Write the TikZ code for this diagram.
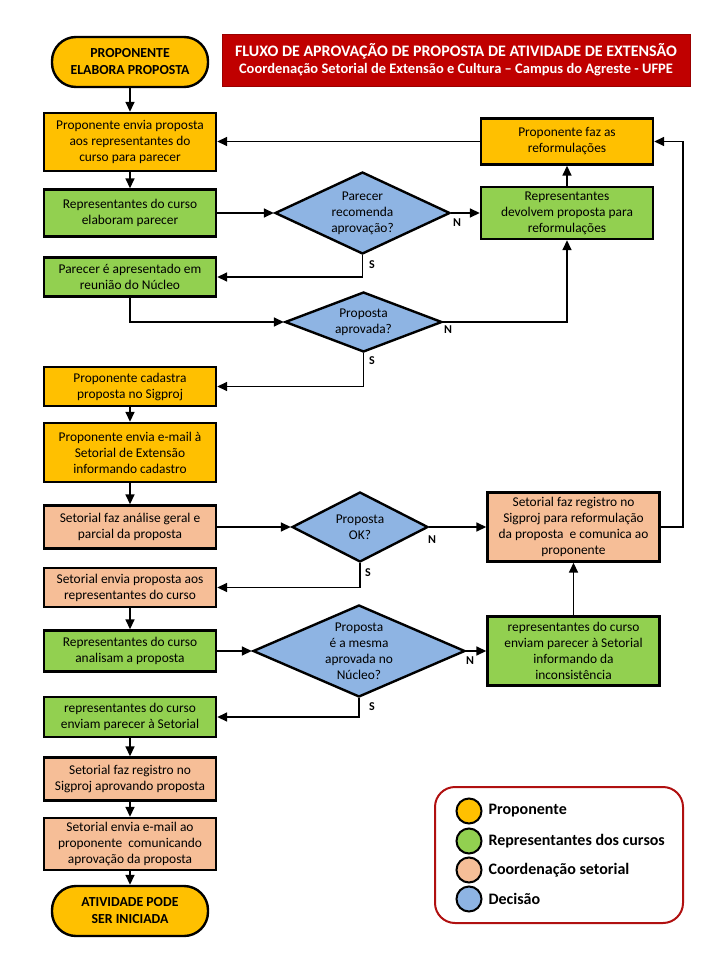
\documentclass[tikz,border=0pt]{standalone}
\usepackage{fontspec}
\setmainfont{Carlito}
\usetikzlibrary{arrows.meta,shapes.geometric,calc}
\definecolor{cprop}{HTML}{FFC000}
\definecolor{crep}{HTML}{92D050}
\definecolor{cset}{HTML}{F6BE97}
\definecolor{cdec}{HTML}{8EB4E3}
\definecolor{ctitle}{HTML}{C00000}
\definecolor{clegend}{HTML}{B01010}
\begin{document}
\begin{tikzpicture}[x=1pt,y=-1pt,
  base/.style={draw=black,line width=2.4pt,align=center,inner sep=1pt,font=\fontsize{13.4}{16}\selectfont},
  rbox/.style={base,rectangle,minimum width=172pt},
  term/.style={base,rectangle,rounded corners=24pt,minimum width=156pt,minimum height=50pt,fill=cprop,font=\bfseries\fontsize{13.8}{17}\selectfont},
  dec/.style={base,diamond,fill=cdec,inner sep=0pt},
  dtext/.style={align=center,font=\fontsize{13.4}{16}\selectfont},
  arr/.style={line width=1.6pt,-{Triangle[length=10pt,width=9pt]}},
  lab/.style={font=\bfseries\fontsize{12}{12}\selectfont},
  legc/.style={circle,draw=black,line width=2pt,minimum size=25pt,inner sep=0pt},
  legt/.style={anchor=west,font=\bfseries\fontsize{16}{18}\selectfont}
]
\useasboundingbox (0,0) rectangle (720,960);

% title
\node[fill=ctitle,draw=ctitle!80!black,line width=0.8pt,minimum width=468pt,minimum height=52pt,align=center,text=white] (title) at (456,60)
 {{\bfseries\fontsize{16}{20}\selectfont FLUXO DE APROVAÇÃO DE PROPOSTA DE ATIVIDADE DE EXTENSÃO}\\[3pt]
  {\bfseries\fontsize{14.5}{17}\selectfont Coordenação Setorial de Extensão e Cultura -- Campus do Agreste - UFPE}};

% left column
\node[term] (start) at (130,62) {PROPONENTE\\ELABORA PROPOSTA};
\node[rbox,fill=cprop,minimum height=58pt] (b1) at (130,142) {Proponente envia proposta\\aos representantes do\\curso para parecer};
\node[rbox,fill=crep,minimum height=47pt] (b2) at (130,213) {Representantes do curso\\elaboram parecer};
\node[rbox,fill=crep,minimum height=39pt] (b3) at (130,277) {Parecer é apresentado em\\reunião do Núcleo};
\node[rbox,fill=cprop,minimum height=39pt] (b4) at (130,386.5) {Proponente cadastra\\proposta no Sigproj};
\node[rbox,fill=cprop,minimum height=59pt] (b5) at (130,452.5) {Proponente envia e-mail à\\Setorial de Extensão\\informando cadastro};
\node[rbox,fill=cset,minimum height=43pt] (b6) at (130,527) {Setorial faz análise geral e\\parcial da proposta};
\node[rbox,fill=cset,minimum height=39pt] (b7) at (130,587.5) {Setorial envia proposta aos\\representantes do curso};
\node[rbox,fill=crep,minimum height=41pt] (b8) at (130,651) {Representantes do curso\\analisam a proposta};
\node[rbox,fill=crep,minimum height=40pt] (b9) at (130,717) {representantes do curso\\enviam parecer à Setorial};
\node[rbox,fill=cset,minimum height=43pt] (b10) at (130,779) {Setorial faz registro no\\Sigproj aprovando proposta};
\node[rbox,fill=cset,minimum height=52pt] (b11) at (130,844) {Setorial envia e-mail ao\\proponente\ \ comunicando\\aprovação da proposta};
\node[term] (fim) at (130,911) {ATIVIDADE PODE\\SER INICIADA};

% decisions
\node[dec,minimum width=175pt,minimum height=82pt,label={[dtext]center:Parecer\\recomenda\\aprovação?}] (d1) at (362.5,213) {};
\node[dec,minimum width=157pt,minimum height=60pt,label={[dtext]center:Proposta\\aprovada?}] (d2) at (363.5,322) {};
\node[dec,minimum width=136pt,minimum height=70pt,label={[dtext]center:Proposta\\OK?}] (d3) at (360,527) {};
\node[dec,minimum width=212pt,minimum height=92pt,label={[dtext]center:Proposta\\é a mesma\\aprovada no\\Núcleo?}] (d4) at (359,651) {};

% right column
\node[rbox,fill=cprop,minimum height=46pt] (faz) at (567,141.5) {Proponente faz as\\reformulações};
\node[rbox,fill=crep,minimum height=52pt] (dev) at (567,213) {Representantes\\devolvem proposta para\\reformulações};
\node[rbox,fill=cset,minimum height=69pt] (sreg) at (573.5,527) {Setorial faz registro no\\Sigproj para reformulação\\da proposta\ \ e comunica ao\\proponente};
\node[rbox,fill=crep,minimum height=69pt] (inc) at (573.5,651) {representantes do curso\\enviam parecer à Setorial\\informando da\\inconsistência};

% connectors
\draw[arr] (start) -- (b1);
\draw[arr] (b1) -- (b2);
\draw[arr] (b2.east) -- (d1.west);
\draw[arr] (d1.east) -- (dev.west);
\draw[arr] (d1.south) |- (b3.east);
\draw[arr] (dev) -- (faz);
\draw[arr] (faz.west) -- (b1.east |- faz.west);
\draw[arr] (b3.south) |- (d2.west);
\draw[arr] (d2.east) -| (dev.south);
\draw[arr] (d2.south) |- (b4.east);
\draw[arr] (b4) -- (b5);
\draw[arr] (b5) -- (b6);
\draw[arr] (b6.east) -- (d3.west);
\draw[arr] (d3.east) -- (sreg.west);
\draw[arr] (d3.south) |- (b7.east);
\coordinate (rc) at (683,0);
\draw[arr] (sreg.east) -- (rc |- sreg.east) -- (rc |- faz.east) -- (faz.east);
\draw[arr] (b7) -- (b8);
\draw[arr] (b8.east) -- (d4.west);
\draw[arr] (d4.east) -- (inc.west);
\draw[arr] (inc) -- (sreg);
\draw[arr] (d4.south) |- (b9.east);
\draw[arr] (b9) -- (b10);
\draw[arr] (b10) -- (b11);
\draw[arr] (b11) -- (fim);

% labels
\node[lab] (n1) at (457,223) {N};
\node[lab] (s1) at (372,265) {S};
\node[lab] (n2) at (448,330) {N};
\node[lab] (s2) at (372,361) {S};
\node[lab] (n3) at (432,540) {N};
\node[lab] (s3) at (368,573) {S};
\node[lab] (n4) at (470,661) {N};
\node[lab] (s4) at (372,707) {S};

% legend
\node[draw=clegend,line width=2pt,rounded corners=20pt,minimum width=248pt,minimum height=136pt] (leg) at (559,855) {};
\node[legc,fill=cprop] (c1) at (469,811) {};
\node[legc,fill=crep] (c2) at (469,841) {};
\node[legc,fill=cset] (c3) at (469,870) {};
\node[legc,fill=cdec] (c4) at (469,899) {};
\node[legt] (t1) at (485,811) {Proponente};
\node[legt] (t2) at (485,841) {Representantes dos cursos};
\node[legt] (t3) at (485,870) {Coordenação setorial};
\node[legt] (t4) at (485,899) {Decisão};
\end{tikzpicture}
\end{document}
